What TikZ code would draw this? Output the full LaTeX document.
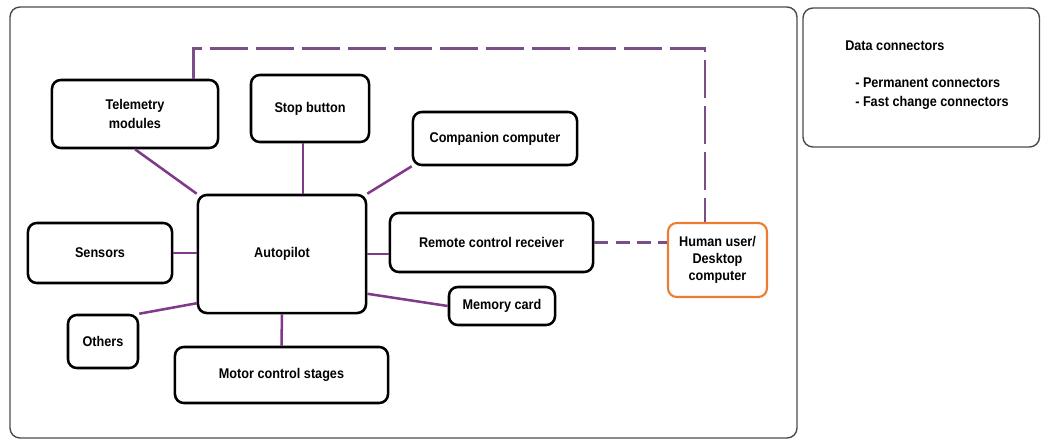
\documentclass[tikz,border=0pt]{standalone}
\usepackage{fontspec}
\setmainfont{Liberation Sans}[FakeStretch=0.9]
\usepackage{xcolor}
\usetikzlibrary{positioning}
\definecolor{linkpurple}{RGB}{128,58,138}
\definecolor{dashpurple}{RGB}{122,78,136}
\definecolor{userorange}{RGB}{236,125,48}
\definecolor{framegray}{RGB}{75,75,75}
\tikzstyle{block} = [rectangle, rounded corners=0.22cm, line width=1.8pt, draw=black, fill=white, align=center, font=\bfseries, inner sep=2pt]
\tikzstyle{userblock} = [block, draw=userorange, line width=1.5pt]
\tikzstyle{legendtext} = [anchor=west, font=\bfseries, inner sep=0pt]
\tikzstyle{permlink} = [line width=1.8pt, draw=linkpurple]
\tikzstyle{fastlink} = [line width=1.8pt, draw=dashpurple, dash pattern=on 0.95cm off 0.2cm]
\tikzstyle{framebox} = [line width=1pt, draw=framegray, rounded corners=0.25cm]

\begin{document}
\begin{tikzpicture}[x=0.025cm, y=-0.025cm]
    \useasboundingbox (0,0) rectangle (1041,441);
    \draw [framebox] (10,7) rectangle (797,438);
    \draw [framebox] (803,8) rectangle (1039.5,147);

    \node (auto) [block, minimum width=4.2cm, minimum height=2.95cm] at (282,254) {Autopilot};
    \node (tel) [block, minimum width=4.15cm, minimum height=1.7cm] at (135,114) {Telemetry\\[1pt]modules};
    \node (stop) [block, minimum width=2.95cm, minimum height=1.675cm] at (310,108.5) {Stop button};
    \node (comp) [block, minimum width=4.1cm, minimum height=1.325cm] at (495,138.5) {Companion computer};
    \node (sens) [block, minimum width=3.6cm, minimum height=1.5cm] at (100,253) {Sensors};
    \node (oth) [block, minimum width=1.75cm, minimum height=1.325cm] at (103,341.5) {Others};
    \node (mot) [block, minimum width=5.325cm, minimum height=1.4cm] at (281.5,375) {Motor control stages};
    \node (rem) [block, minimum width=5.075cm, minimum height=1.475cm] at (491.5,242.5) {Remote control receiver};
    \node (mem) [block, minimum width=2.65cm, minimum height=0.95cm] at (502,306) {Memory card};
    \node (hum) [userblock, minimum width=2.475cm, minimum height=1.85cm] at (717.5,260) {Human user/\\Desktop\\computer};

    \node (dc) [legendtext] at (845,46) {Data connectors};
    \node (perm) [legendtext] at (855,83) {- Permanent connectors};
    \node (fast) [legendtext] at (855,103) {- Fast change connectors};

    \draw [permlink] (tel.south) -- (auto.north west);
    \draw [permlink] ([xshift=-0.175cm]stop.south) -- ([xshift=-0.175cm]stop.south |- auto.north);
    \draw [permlink] (comp.south west) -- (auto.north east);
    \draw [permlink] (sens.east) -- (sens.east -| auto.west);
    \draw [permlink] (oth.north east) -- (auto.210);
    \draw [permlink] (auto.south) -- (mot.north);
    \draw [permlink] (auto.east) -- (auto.east -| rem.west);
    \draw [permlink] (auto.-25) -- (mem.west);
    \draw [fastlink] (tel.31) -- ++(0,-30) -| ([xshift=-0.3125cm]hum.north);
    \draw [fastlink, dash pattern=on 0.35cm off 0.18cm] (rem.east) -- (rem.east -| hum.west);
\end{tikzpicture}
\end{document}
